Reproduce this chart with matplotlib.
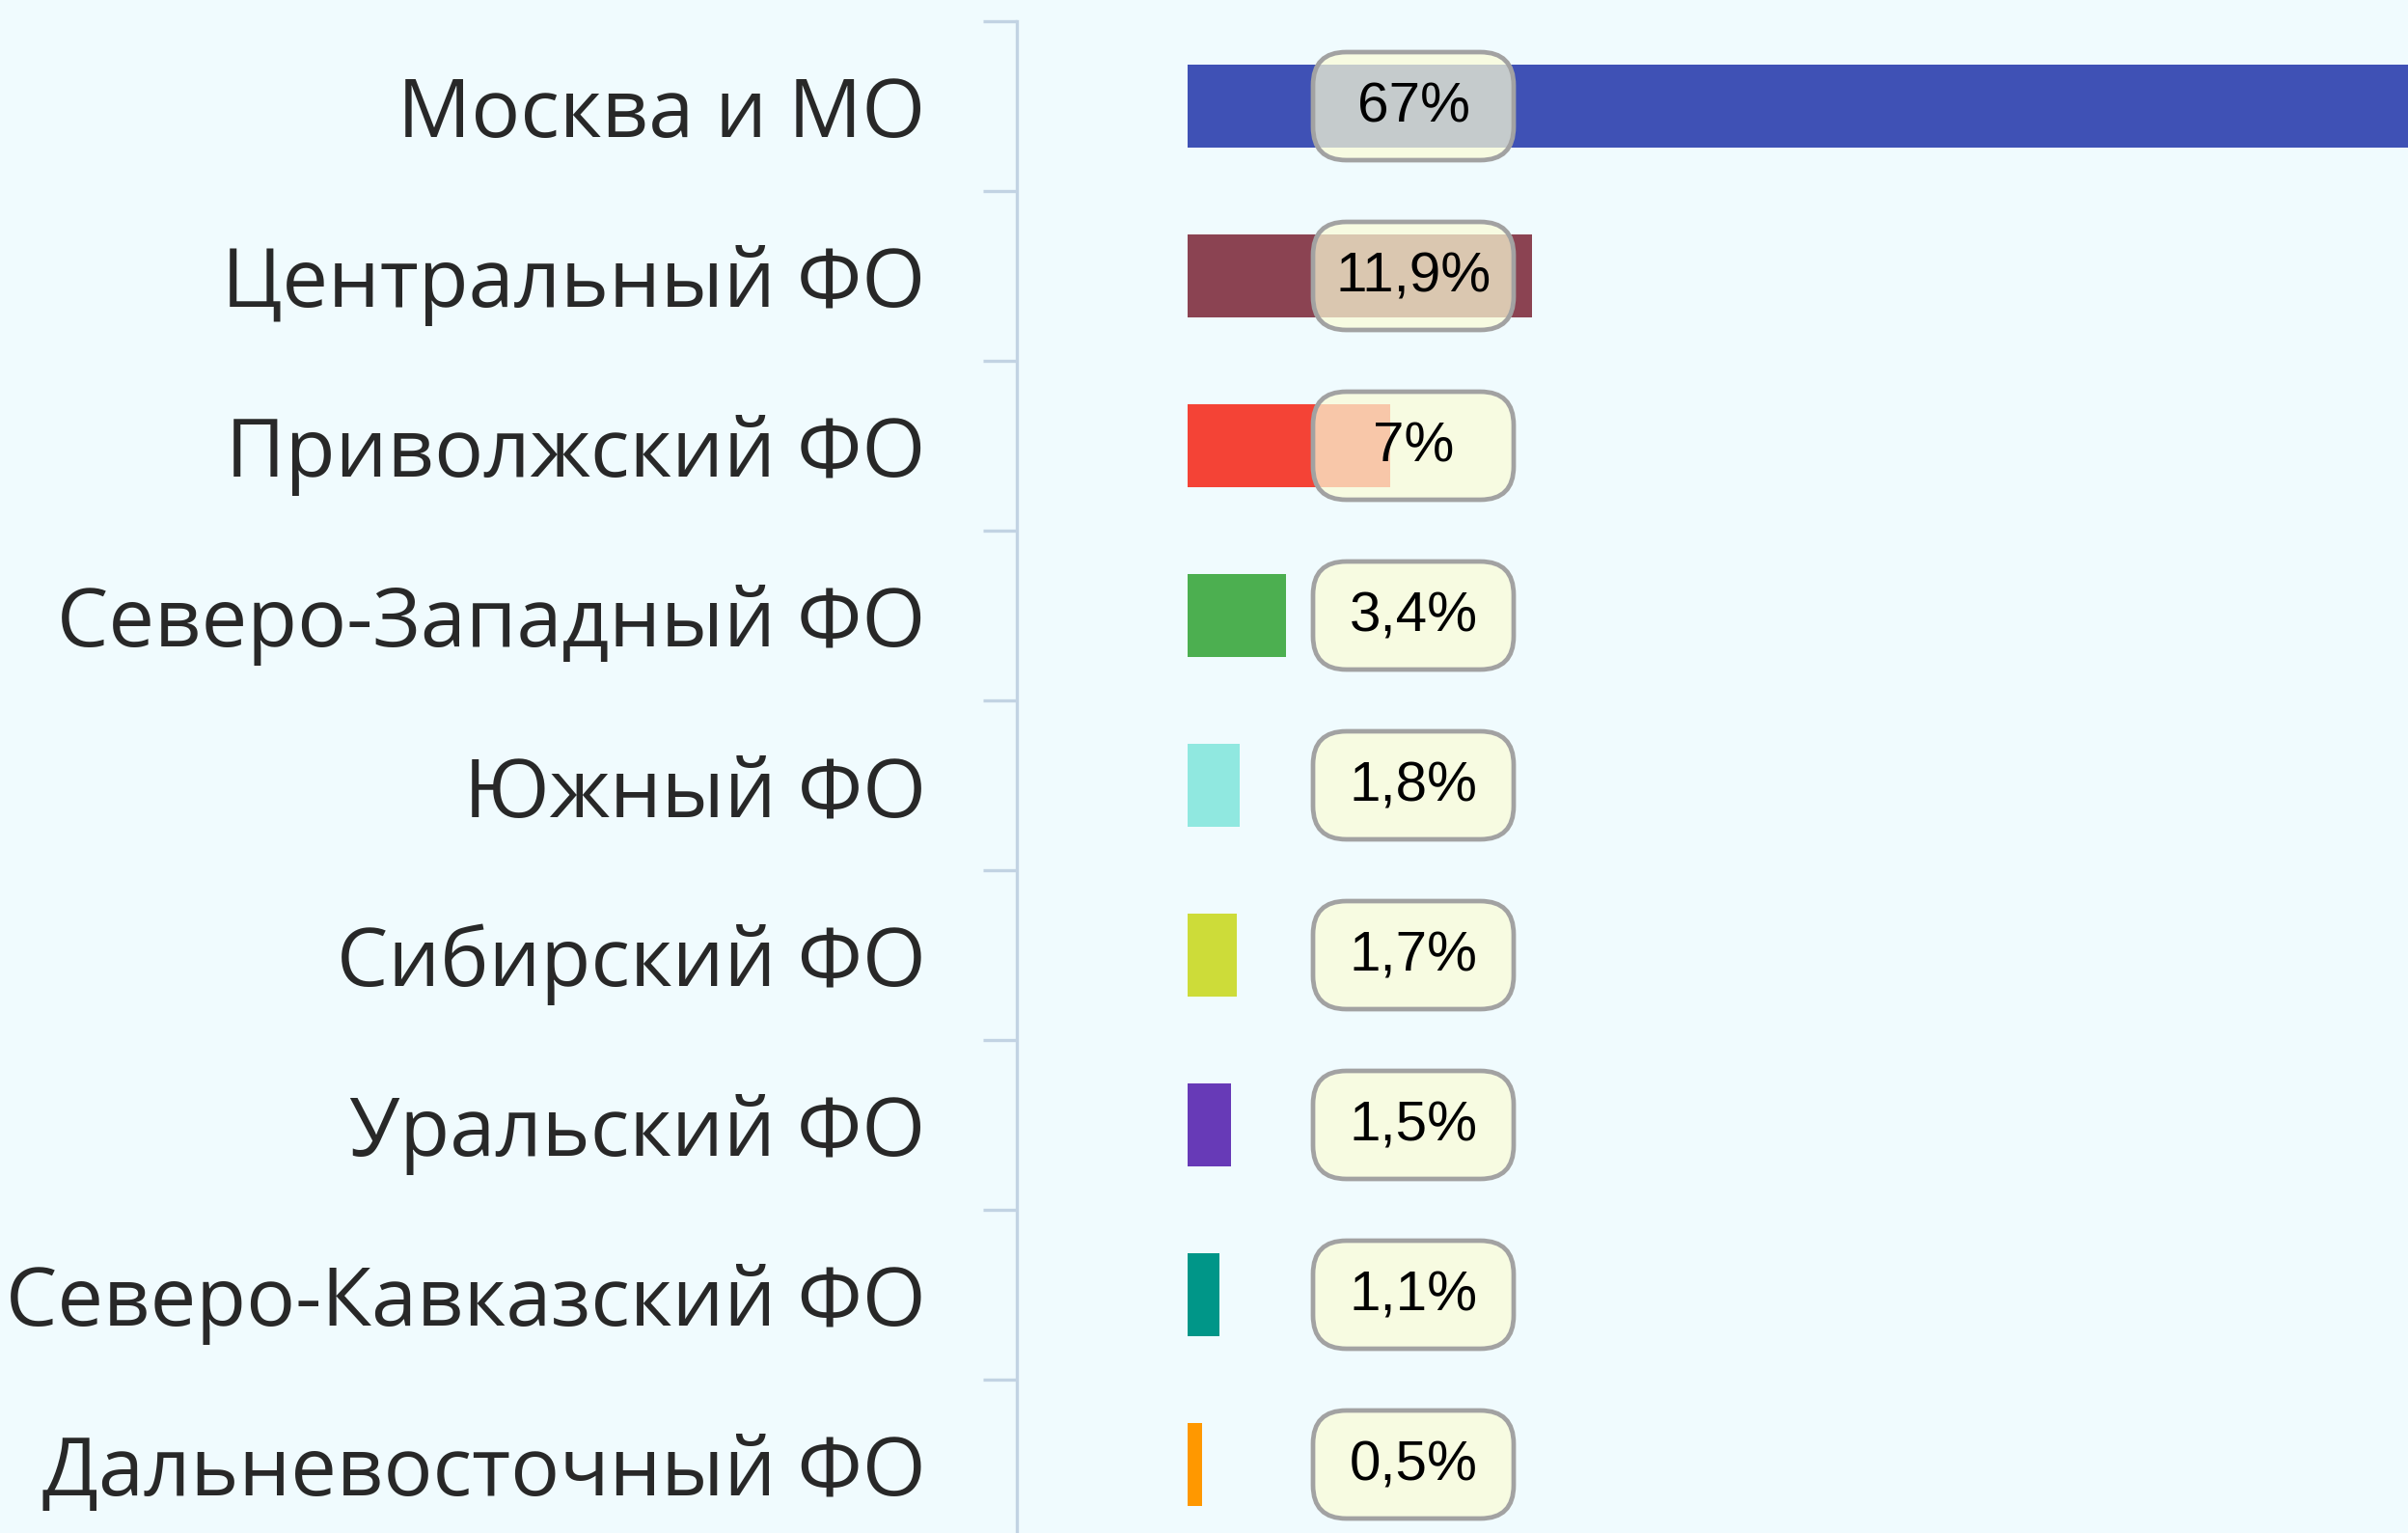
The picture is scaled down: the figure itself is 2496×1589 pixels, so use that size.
import matplotlib
matplotlib.use("Agg")
import matplotlib.pyplot as plt
from matplotlib.patches import FancyBboxPatch

regions = ["Москва и МО", "Центральный ФО", "Приволжский ФО", "Северо-Западный ФО",
           "Южный ФО", "Сибирский ФО", "Уральский ФО", "Северо-Кавказский ФО",
           "Дальневосточный ФО"]
shares = [67, 11.9, 7, 3.4, 1.8, 1.7, 1.5, 1.1, 0.5]
share_labels = ["67%", "11,9%", "7%", "3,4%", "1,8%", "1,7%", "1,5%", "1,1%", "0,5%"]
bar_colors = ["#3F51B5", "#8B4352", "#F44336", "#4CAF50", "#90E8E0",
              "#CDDC39", "#673AB7", "#009688", "#FF9800"]

W, H, DPI = 2496, 1589, 100
BG = "#F0FBFE"
AXC = "#C2D3E3"

fig = plt.figure(figsize=(W / DPI, H / DPI), dpi=DPI, facecolor=BG)
left_px, top_px, band_px = 1054, 22, 176
n = len(regions)
ax_h = band_px * n
ax = fig.add_axes([left_px / W, (H - top_px - ax_h) / H, (W - left_px) / W, ax_h / H])
ax.set_facecolor(BG)

px_per_unit = 30.0
x0 = -(1231 - left_px) / px_per_unit
x1 = x0 + (W - left_px) / px_per_unit
ax.set_xlim(x0, x1)
ax.set_ylim(n - 0.5, -0.5)

ypos = list(range(n))
ax.barh(ypos, shares, height=0.49, color=bar_colors, left=0, zorder=2)

# boxes with labels
label_x = (1465 - 1231) / px_per_unit
box_w = 208 / px_per_unit
box_h = 112 / band_px
aspect = (1 / band_px) / (1 / px_per_unit)
for y, txt in zip(ypos, share_labels):
    p = FancyBboxPatch((label_x - box_w / 2, y - box_h / 2), box_w, box_h,
                       boxstyle="round,pad=0,rounding_size=1.15",
                       mutation_aspect=aspect,
                       facecolor=(250 / 255, 251 / 255, 214 / 255, 0.72),
                       edgecolor="#A2A2A2", linewidth=3.4, zorder=3)
    ax.add_patch(p)
    ax.text(label_x, y + 0.01, txt, ha="center", va="center", fontsize=42,
            family=["Liberation Sans", "DejaVu Sans"], color="black", zorder=4)

for s in ["top", "right", "bottom"]:
    ax.spines[s].set_visible(False)
ax.spines["left"].set_color(AXC)
ax.spines["left"].set_linewidth(2.4)
ax.set_xticks([])

ax.set_yticks([i - 0.5 for i in range(n + 1)])
ax.set_yticklabels([])
ax.tick_params(axis="y", which="major", length=25, width=2.4, color=AXC)
ax.set_yticks(ypos, minor=True)
ax.set_yticklabels(regions, minor=True, fontsize=61,
                   family=["Open Sans", "DejaVu Sans"], color="#282828")
ax.tick_params(axis="y", which="minor", length=0, pad=68)

fig.savefig("out.png", dpi=DPI, facecolor=BG)
